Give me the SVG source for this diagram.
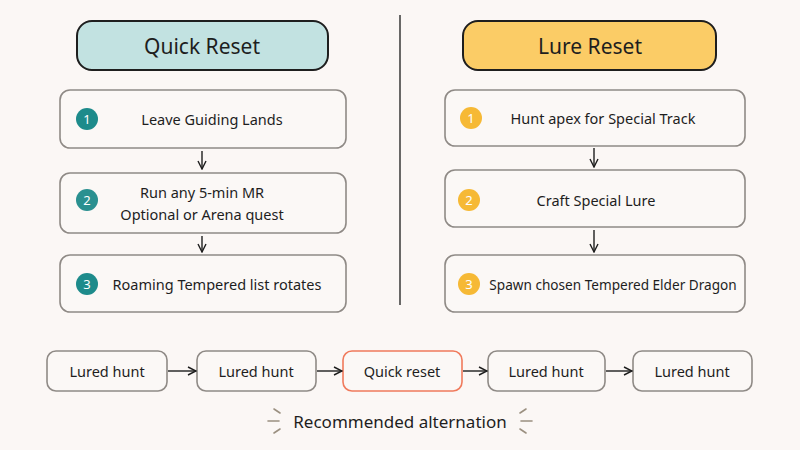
<svg xmlns="http://www.w3.org/2000/svg" width="800" height="450" viewBox="0 0 800 450">
<defs>
<style>
text{font-family:"Noto Sans","DejaVu Sans",sans-serif;fill:#1e1e1e;text-anchor:middle;dominant-baseline:central}
.title{font-size:21px}
.step{font-size:14.5px}
.box{fill:#fbf8f6;stroke:#8f8a86;stroke-width:1.6}
.num{font-size:13px;fill:#fff}
.conn{stroke:#1e1e1e;stroke-width:1.4;fill:none;marker-end:url(#ah)}
.hl{stroke:#9b9080;stroke-width:1.6;stroke-linecap:round}
</style>
<marker id="ah" viewBox="0 0 10 10" refX="9" refY="5" markerWidth="10" markerHeight="10" markerUnits="userSpaceOnUse" orient="auto">
<path d="M1,1 L9,5 L1,9" fill="none" stroke="#1e1e1e" stroke-width="1.4"/>
</marker>
</defs>
<rect width="800" height="450" fill="#fbf7f5"/>
<line x1="400" y1="15" x2="400" y2="305" stroke="#2a2a2a" stroke-width="1.4"/>

<g id="title-quick">
<rect x="77" y="21" width="251" height="49" rx="15" fill="#c2e2e1" stroke="#1e1e1e" stroke-width="2"/>
<text x="202" y="46" class="title">Quick Reset</text>
</g>
<g id="title-lure">
<rect x="463" y="21" width="253" height="49" rx="15" fill="#fbcc66" stroke="#1e1e1e" stroke-width="2"/>
<text x="590" y="46" class="title">Lure Reset</text>
</g>

<g id="q1">
<rect x="60" y="90" width="286" height="58" rx="10" class="box"/>
<circle cx="87" cy="119" r="11" fill="#1d8b8b"/>
<text x="87" y="119" class="num">1</text>
<text x="212" y="119" class="step">Leave Guiding Lands</text>
</g>
<g id="q2">
<rect x="60" y="173" width="286" height="60" rx="10" class="box"/>
<circle cx="87" cy="200" r="11" fill="#2a9090"/>
<text x="87" y="200" class="num">2</text>
<text x="202" y="192" class="step">Run any 5-min MR</text>
<text x="202" y="214" class="step">Optional or Arena quest</text>
</g>
<g id="q3">
<rect x="60" y="255" width="286" height="57" rx="10" class="box"/>
<circle cx="87" cy="284" r="11" fill="#1d8b8b"/>
<text x="87" y="284" class="num">3</text>
<text x="217" y="284" class="step">Roaming Tempered list rotates</text>
</g>

<g id="l1">
<rect x="445" y="90" width="300" height="56" rx="10" class="box"/>
<circle cx="471" cy="118" r="11" fill="#f6b935"/>
<text x="471" y="118" class="num">1</text>
<text x="603" y="118" class="step">Hunt apex for Special Track</text>
</g>
<g id="l2">
<rect x="445" y="170" width="300" height="57" rx="10" class="box"/>
<circle cx="469" cy="200" r="11" fill="#f6b935"/>
<text x="469" y="200" class="num">2</text>
<text x="596" y="200" class="step">Craft Special Lure</text>
</g>
<g id="l3">
<rect x="445" y="255" width="300" height="57" rx="10" class="box"/>
<circle cx="469" cy="284" r="11" fill="#f6b935"/>
<text x="469" y="284" class="num">3</text>
<text x="613" y="284" class="step" style="font-size:13.6px">Spawn chosen Tempered Elder Dragon</text>
</g>

<g id="b1"><rect x="47" y="351" width="120" height="40" rx="9" class="box"/><text x="107" y="371" class="step">Lured hunt</text></g>
<g id="b2"><rect x="197" y="351" width="119" height="40" rx="9" class="box"/><text x="256" y="371" class="step">Lured hunt</text></g>
<g id="b3"><rect x="343" y="351" width="119" height="40" rx="9" fill="#fbf8f6" stroke="#f07a5c" stroke-width="1.6"/><text x="402" y="371" class="step">Quick reset</text></g>
<g id="b4"><rect x="488" y="351" width="117" height="40" rx="9" class="box"/><text x="546" y="371" class="step">Lured hunt</text></g>
<g id="b5"><rect x="633" y="351" width="119" height="40" rx="9" class="box"/><text x="692" y="371" class="step">Lured hunt</text></g>

<g id="connectors">
<line x1="202" y1="151" x2="202" y2="169" class="conn"/>
<line x1="202" y1="236" x2="202" y2="252" class="conn"/>
<line x1="594" y1="148" x2="594" y2="167" class="conn"/>
<line x1="594" y1="230" x2="594" y2="252" class="conn"/>
<line x1="168" y1="371" x2="196" y2="371" class="conn"/>
<line x1="317" y1="371" x2="342" y2="371" class="conn"/>
<line x1="463" y1="371" x2="487" y2="371" class="conn"/>
<line x1="606" y1="371" x2="632" y2="371" class="conn"/>
</g>

<g id="caption">
<line x1="274" y1="409" x2="280" y2="413" class="hl"/>
<line x1="268" y1="421" x2="279" y2="421" class="hl"/>
<line x1="274" y1="433" x2="280" y2="429" class="hl"/>
<line x1="526" y1="409" x2="520" y2="413" class="hl"/>
<line x1="532" y1="421" x2="521" y2="421" class="hl"/>
<line x1="526" y1="433" x2="520" y2="429" class="hl"/>
<text x="400" y="421" style="font-size:17px">Recommended alternation</text>
</g>
</svg>
